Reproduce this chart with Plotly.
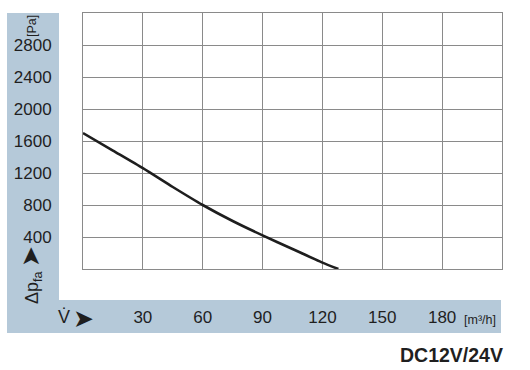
import plotly.graph_objects as go

# Data
flow = [0, 15, 30, 45, 60, 75, 90, 105, 120, 128]          # m3/h
pressure = [1700, 1480, 1260, 1025, 800, 600, 420, 250, 80, 0]  # Pa
x_ticks = [30, 60, 90, 120, 150, 180]
y_ticks = [400, 800, 1200, 1600, 2000, 2400, 2800]

W, H = 530, 370
L, R, T, B = 83, 28, 13, 101
PW, PH = W - L - R, H - T - B

def px(x):
    return (x - L) / PW

def py(y):
    return (H - B - y) / PH

BLUE = "#b5c9d9"
TXT = "#1f1f1f"
GRID = "#8a8a8a"
FONT = "Liberation Sans, Arial, sans-serif"

fig = go.Figure()
fig.add_trace(go.Scatter(x=flow, y=pressure, mode="lines",
                         line=dict(color="#1e1e1e", width=2.6, shape="spline", smoothing=0.6),
                         hoverinfo="skip", showlegend=False))

fig.update_layout(
    width=W, height=H,
    margin=dict(l=L, r=R, t=T, b=B, pad=0),
    paper_bgcolor="white", plot_bgcolor="white",
    font=dict(family=FONT, color=TXT, size=17),
    xaxis=dict(range=[0, 210], tickvals=x_ticks, ticks="outside", ticklen=33,
               tickcolor="rgba(0,0,0,0)", showgrid=True, gridcolor=GRID, gridwidth=1,
               showline=True, linecolor=GRID, linewidth=1, mirror=True, zeroline=False,
               tickfont=dict(size=17, color=TXT, family=FONT), fixedrange=True),
    yaxis=dict(range=[0, 3200], tickvals=y_ticks, ticks="outside", ticklen=27,
               tickcolor="rgba(0,0,0,0)", showgrid=True, gridcolor=GRID, gridwidth=1,
               showline=True, linecolor=GRID, linewidth=1, mirror=True, zeroline=False,
               tickfont=dict(size=17, color=TXT, family=FONT), fixedrange=True),
    shapes=[
        dict(type="rect", xref="paper", yref="paper", x0=px(7), x1=px(59), y0=py(333), y1=py(13),
             fillcolor=BLUE, line=dict(width=0), layer="below"),
        dict(type="rect", xref="paper", yref="paper", x0=px(7), x1=px(501), y0=py(333), y1=py(300),
             fillcolor=BLUE, line=dict(width=0), layer="below"),
    ],
    annotations=[
        dict(text="[Pa]", xref="paper", yref="paper", x=px(32), y=py(26), showarrow=False,
             textangle=-90, font=dict(size=12.5, color=TXT, family=FONT), xanchor="center", yanchor="middle"),
        dict(text="Δp<sub>fa</sub>", xref="paper", yref="paper", x=px(33), y=py(288), showarrow=False,
             textangle=-90, font=dict(size=18, color=TXT, family=FONT), xanchor="center", yanchor="middle"),
        dict(text="➤", xref="paper", yref="paper", x=px(30), y=py(257), showarrow=False,
             textangle=-90, font=dict(size=25, color=TXT, family="DejaVu Sans"), xanchor="center", yanchor="middle"),
        dict(text="V̇", xref="paper", yref="paper", x=px(64), y=py(317), showarrow=False,
             font=dict(size=18, color=TXT, family=FONT), xanchor="center", yanchor="middle"),
        dict(text="➤", xref="paper", yref="paper", x=px(83), y=py(318), showarrow=False,
             font=dict(size=25, color=TXT, family="DejaVu Sans"), xanchor="center", yanchor="middle"),
        dict(text="[m³/h]", xref="paper", yref="paper", x=px(480), y=py(320), showarrow=False,
             font=dict(size=12.5, color=TXT, family=FONT), xanchor="center", yanchor="middle"),
        dict(text="<b>DC12V/24V</b>", xref="paper", yref="paper", x=px(505), y=py(355), showarrow=False,
             font=dict(size=19.5, color=TXT, family=FONT), xanchor="right", yanchor="middle"),
    ],
)

fig.write_html("out.html")
